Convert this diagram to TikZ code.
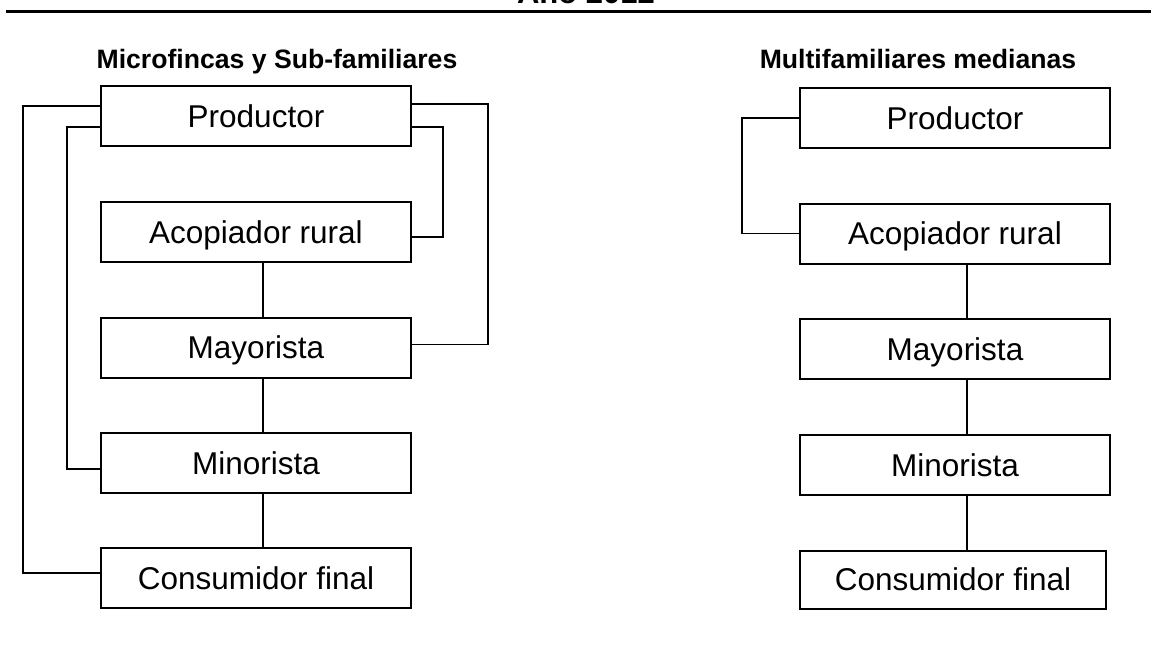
\documentclass[tikz,border=0pt]{standalone}
\usepackage{fontspec}
\setmainfont{Liberation Sans}
\usetikzlibrary{positioning}
\tikzset{
box/.style={draw, line width=1pt, minimum width=155pt, minimum height=30pt, inner sep=0pt, text height=11pt, text depth=0pt, font=\fontsize{15.75}{18}\selectfont},
title/.style={anchor=base, font=\fontsize{13.3}{16}\selectfont\bfseries},
link/.style={line width=0.75pt},
}

\begin{document}
\begin{tikzpicture}[x=0.5pt, y=-0.5pt]
    \useasboundingbox (0,0) rectangle (1151,649);

    %heading and rule
    \node[title, font=\fontsize{15.5}{18}\selectfont\bfseries] (year) at (586,3.5) {Año 2012};
    \coordinate (rl) at (6,11.5);
    \coordinate (rr) at (1151,11.5);
    \draw[line width=1.5pt] (rl) -- (rr);

    %left chain
    \node[title] (tleft) at (277,68) {Microfincas y Sub-familiares};
    \node[box] (prodL) at (256,116) {Productor};
    \node[box] (acopL) at (256,232) {Acopiador rural};
    \node[box] (mayL) at (256,347.5) {Mayorista};
    \node[box] (minL) at (256,463) {Minorista};
    \node[box] (consL) at (256,578) {Consumidor final};

    %right chain
    \node[title] (tright) at (918,68) {Multifamiliares medianas};
    \node[box] (prodR) at (955,118) {Productor};
    \node[box] (acopR) at (955,233.5) {Acopiador rural};
    \node[box] (mayR) at (955,349.3) {Mayorista};
    \node[box] (minR) at (955,465) {Minorista};
    \node[box, minimum width=153pt, minimum height=29pt] (consR) at (953,579.5) {Consumidor final};

    %straight links
    \draw[link] ([xshift=3.5pt]acopL.south) -- ([xshift=3.5pt]mayL.north);
    \draw[link] ([xshift=3.5pt]mayL.south) -- ([xshift=3.5pt]minL.north);
    \draw[link] ([xshift=3.5pt]minL.south) -- ([xshift=3.5pt]consL.north);
    \draw[link] ([xshift=6pt]acopR.south) -- ([xshift=6pt]mayR.north);
    \draw[link] ([xshift=6pt]mayR.south) -- ([xshift=6pt]minR.north);
    \draw[link] ([xshift=6pt]minR.south) -- ([xshift=7pt]consR.north);

    %side links
    \draw[link] ([yshift=5pt]prodL.west) -| (23,300) |- ([yshift=2.5pt]consL.west);
    \draw[link] ([yshift=-5.5pt]prodL.west) -| (67,300) |- ([yshift=-3pt]minL.west);
    \draw[link] ([yshift=-5.5pt]prodL.east) -| (443,180) |- ([yshift=-2.5pt]acopL.east);
    \draw[link] ([yshift=6pt]prodL.east) -| (488,220) |- ([yshift=1.5pt]mayL.east);
    \draw[link] (prodR.west) -| (742,180) |- (acopR.west);

\end{tikzpicture}
\end{document}
